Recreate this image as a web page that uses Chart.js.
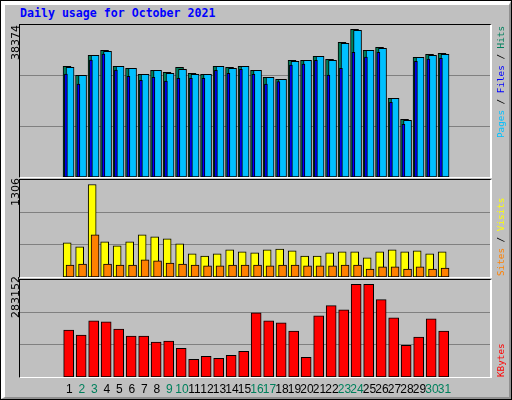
<!DOCTYPE html>
<html><head><meta charset="utf-8">
<script src="https://cdn.jsdelivr.net/npm/chart.js@4"></script>
<style>
body{margin:0;width:512px;height:400px;overflow:hidden;background:#C0C0C0;position:relative;font-family:"DejaVu Sans",sans-serif}
.abs{position:absolute}
canvas{position:absolute}
.rot{position:absolute;transform-origin:0 0;transform:rotate(-90deg);white-space:nowrap;font-size:11px}
.rl{font-family:'DejaVu Sans Mono',monospace;font-size:9.3px}
</style></head><body>
<div class="abs" style="left:0;top:0;width:510px;height:398px;border:1px solid #000;"></div>
<div class="abs" style="left:1px;top:1px;width:504px;height:392px;border-top:4px solid #fff;border-left:4px solid #fff;border-right:2px solid #909090;border-bottom:2px solid #909090"></div>
<div class="abs" style="left:20px;top:6px;font:bold 11.6px 'DejaVu Sans Mono',monospace;color:#0000FF">Daily usage for October 2021</div>
<canvas id="c1" style="left:20px;top:25px;width:471px;height:152px" width="471" height="152"></canvas>
<canvas id="c2" style="left:20px;top:180px;width:471px;height:97px" width="471" height="97"></canvas>
<canvas id="c3" style="left:20px;top:280px;width:471px;height:120px" width="471" height="120"></canvas>
<div class="abs" style="left:19px;top:24px;width:470px;height:152px;border-top:1px solid #000;border-left:1px solid #000;border-right:2px solid #fff;border-bottom:1px solid #fff"></div>
<div class="abs" style="left:19px;top:179px;width:470px;height:97px;border-top:1px solid #000;border-left:1px solid #000;border-right:2px solid #fff;border-bottom:1px solid #fff"></div>
<div class="abs" style="left:19px;top:279px;width:470px;height:97px;border-top:1px solid #000;border-left:1px solid #000;border-right:2px solid #fff;border-bottom:1px solid #fff"></div>
<div class="rot" style="left:9px;top:60px">38374</div>
<div class="rot" style="left:9px;top:206px">1306</div>
<div class="rot" style="left:9px;top:318px">283152</div>
<div class="rot rl" style="left:495px;top:138px"><span style="color:#00C0FF">Pages</span> / <span style="color:#0000FF">Files</span> / <span style="color:#00805C">Hits</span></div>
<div class="rot rl" style="left:495px;top:276px"><span style="color:#FF8000">Sites</span> / <span style="color:#FFFF00">Visits</span></div>
<div class="rot rl" style="left:495px;top:377px;color:#FF0000">KBytes</div>
<script>
const days = Array.from({length:31},(_,i)=>i+1);
const weekends = [2,3,9,10,16,17,23,24,30,31];
const hits  = [27950,25680,30730,31990,27950,27450,25930,26940,26440,27700,26180,25930,27950,27700,27950,26940,25170,24670,29470,29470,30480,29720,34010,37290,31990,32750,19870,14570,30220,30980,31230];
const files = [27700,25680,30730,31740,27950,27450,25930,26940,26180,27190,25930,25930,27950,27450,27950,26940,25170,24670,29210,29470,30480,29470,33760,37040,31990,32500,19870,14320,30220,30730,30980];
const pages = [26010,23480,29540,31060,27020,25430,24420,25170,24240,24920,24920,24920,26940,26180,27190,25930,23480,24060,28280,28530,29470,25760,27450,31490,30300,31490,18860,13310,29210,29800,29970];
const visits= [481,425,1306,496,439,496,595,566,538,467,326,297,326,382,354,340,382,396,368,297,297,340,354,354,269,354,382,354,368,326,354];
const sites = [170,184,595,184,170,170,241,227,198,184,170,156,156,170,170,170,156,170,170,156,156,156,170,170,113,142,142,113,142,113,127];
const kbytes= [143545,128055,171428,168330,146643,124957,124957,106368,109466,87780,53700,62995,56799,66093,78485,196213,171428,165232,140447,59897,186919,217900,205507,283152,283152,236488,180723,97074,121859,177624,140447];

const XMIN = 1-11/15, XMAX = 31+10/15;
function pts(arr, off){ return arr.map((v,i)=>({x:days[i]+off, y:v})); }
function ds(arr, off, color, w, order){
  return {data:pts(arr,off), backgroundColor:color, borderColor:'#000', borderWidth:1, borderSkipped:false, barThickness:w, order:order, grouped:false};
}
function mk(id, datasets, ymax, extra){
  return new Chart(document.getElementById(id), {
    type:'bar',
    data:{datasets},
    options:{
      responsive:false, animation:false, devicePixelRatio:1,
      datasets:{bar:{grouped:false}},
      layout:{padding:{left:0,right:0,top:0,bottom:extra?23:0}},
      plugins:{legend:{display:false},tooltip:{enabled:false}},
      scales:{
        x:{type:'linear',min:XMIN,max:XMAX,display:false},
        y:{min:0,max:ymax,display:true,
           afterBuildTicks:s=>{s.ticks=[{value:ymax/3},{value:2*ymax/3}];},
           ticks:{display:false},border:{display:false},
           grid:{color:'#808080',lineWidth:1,drawTicks:false}}
      }
    },
    plugins: extra ? [{id:'daylabels',afterDraw(c){
      const ctx=c.ctx, xs=c.scales.x;
      ctx.save(); ctx.font='12px "Liberation Sans"'; ctx.textAlign='center'; ctx.textBaseline='middle';
      days.forEach(d=>{ ctx.fillStyle = weekends.includes(d)?'#00805C':'#000'; ctx.fillText(String(d), xs.getPixelForValue(d)+1, c.chartArea.bottom+13); });
      ctx.restore();
    }}] : []
  });
}
mk('c1',[ds(hits,-0.11,'#00805C',8,3), ds(files,0.13,'#00C0FF',8,2), ds(pages,-0.2,'#0000FF',3,1)], 38374);
mk('c2',[ds(visits,-0.1,'#FFFF00',8,2), ds(sites,0.13,'#FF8000',8,1)], 1370);
mk('c3',[ds(kbytes,0.02,'#FF0000',10,1)], 296400, true);
</script>
</body></html>
